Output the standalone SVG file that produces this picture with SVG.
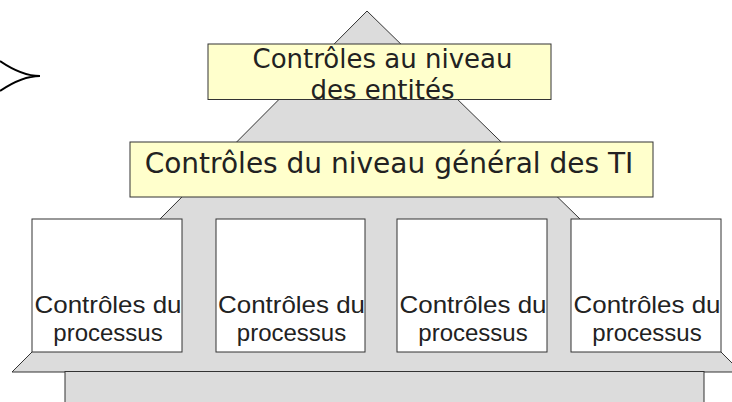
<svg xmlns="http://www.w3.org/2000/svg" width="732" height="402" viewBox="0 0 732 402">
<style>
.fill{fill:#dcdcdc;stroke:none}
.edge{fill:none;stroke:#333;stroke-width:1}
.gray{fill:#dcdcdc;stroke:#333;stroke-width:1}
.yel{fill:#ffffcc;stroke:#333;stroke-width:1}
.box{fill:#ffffff;stroke:#333;stroke-width:1}
.ty{font-family:"DejaVu Sans",sans-serif;fill:#222;text-anchor:middle}
.tp{font-family:"Liberation Sans",Arial,sans-serif;font-size:24px;fill:#222;text-anchor:middle}
</style>
<rect width="732" height="402" fill="#ffffff"/>
<g id="brace">
<path d="M0,61 Q22,76 40,76 M0,91 Q22,76 40,76" fill="none" stroke="#000" stroke-width="2"/>
</g>
<g id="pyramid">
<polygon class="fill" points="367,11 580,219 721,219 721,352 742,372 12,372 32,352 32,219 160,219"/>
<polyline class="edge" points="160,219 367,11 580,219"/>
<polyline class="edge" points="32,352 12,372 742,372"/>
<line class="edge" x1="721" y1="352" x2="742" y2="373"/>
<rect class="gray" x="65" y="371.5" width="639" height="40"/>
</g>
<g id="entites">
<rect class="yel" x="208" y="44" width="343" height="55.5"/>
<text class="ty" font-size="26" x="382.5" y="68">Contrôles au niveau</text>
<text class="ty" font-size="26" x="382.5" y="99">des entités</text>
</g>
<g id="general">
<rect class="yel" x="130" y="142" width="523" height="55"/>
<text class="ty" font-size="28" x="389" y="173">Contrôles du niveau général des TI</text>
</g>
<g id="proc1">
<rect class="box" x="32" y="219" width="150" height="133"/>
<text class="tp" x="108" y="313" textLength="147" lengthAdjust="spacingAndGlyphs">Contrôles du</text>
<text class="tp" x="108" y="341">processus</text>
</g>
<g id="proc2">
<rect class="box" x="216" y="219" width="149" height="133"/>
<text class="tp" x="291.5" y="313" textLength="147" lengthAdjust="spacingAndGlyphs">Contrôles du</text>
<text class="tp" x="291.5" y="341">processus</text>
</g>
<g id="proc3">
<rect class="box" x="397" y="219" width="150" height="133"/>
<text class="tp" x="473" y="313" textLength="147" lengthAdjust="spacingAndGlyphs">Contrôles du</text>
<text class="tp" x="473" y="341">processus</text>
</g>
<g id="proc4">
<rect class="box" x="571" y="219" width="150" height="133"/>
<text class="tp" x="647" y="313" textLength="147" lengthAdjust="spacingAndGlyphs">Contrôles du</text>
<text class="tp" x="647" y="341">processus</text>
</g>
</svg>
